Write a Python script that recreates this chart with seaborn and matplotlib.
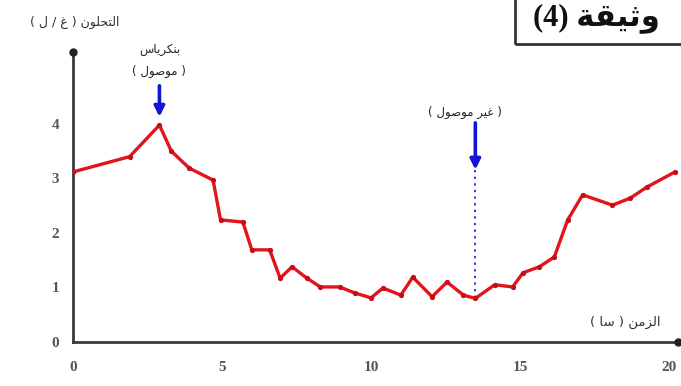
import matplotlib
matplotlib.use("Agg")
import matplotlib.pyplot as plt
from matplotlib.patches import Rectangle
import seaborn as sns
import pandas as pd

# Blood glucose over time (hours), pancreas graft connected then disconnected
time_h = [0, 1.9, 2.9, 3.3, 3.9, 4.7, 4.95, 5.7, 6.0, 6.6, 6.95, 7.35, 7.85,
          8.3, 8.95, 9.45, 10.0, 10.4, 11.0, 11.4, 12.05, 12.55, 13.1, 13.5,
          14.15, 14.75, 15.1, 15.65, 16.15, 16.6, 17.1, 18.1, 18.7, 19.25, 20.2]
glycemia = [3.12, 3.4, 3.98, 3.5, 3.19, 2.97, 2.24, 2.2, 1.69, 1.69, 1.17, 1.38,
            1.17, 1.01, 1.01, 0.9, 0.81, 0.99, 0.86, 1.19, 0.83, 1.1, 0.86, 0.8,
            1.05, 1.01, 1.27, 1.38, 1.56, 2.24, 2.7, 2.51, 2.64, 2.84, 3.12]
x_ticks = [0, 5, 10, 15, 20]
y_ticks = [0, 1, 2, 3, 4]

connect_t = 2.9
disconnect_t = 13.5
disconnect_v = 0.8

title_text = "وثيقة (4)"
y_label = "التحلون ( غ / ل )"
x_label = "الزمن ( سا )"
pancreas_label = "بنكرياس"
connected_label = "( موصول )"
disconnected_label = "( غير موصول )"

# --- minimal Arabic shaping: contextual presentation forms + visual order ---
FORMS = {  # iso, fin, ini, med
    "ا": ("\ufe8d", "\ufe8e", "\ufe8d", "\ufe8e"),
    "ب": ("\ufe8f", "\ufe90", "\ufe91", "\ufe92"),
    "ة": ("\ufe93", "\ufe94", "\ufe93", "\ufe94"),
    "ت": ("\ufe95", "\ufe96", "\ufe97", "\ufe98"),
    "ث": ("\ufe99", "\ufe9a", "\ufe9b", "\ufe9c"),
    "ح": ("\ufea1", "\ufea2", "\ufea3", "\ufea4"),
    "ر": ("\ufead", "\ufeae", "\ufead", "\ufeae"),
    "ز": ("\ufeaf", "\ufeb0", "\ufeaf", "\ufeb0"),
    "س": ("\ufeb1", "\ufeb2", "\ufeb3", "\ufeb4"),
    "ص": ("\ufeb9", "\ufeba", "\ufebb", "\ufebc"),
    "غ": ("\ufecd", "\ufece", "\ufecf", "\ufed0"),
    "ق": ("\ufed5", "\ufed6", "\ufed7", "\ufed8"),
    "ك": ("\ufed9", "\ufeda", "\ufedb", "\ufedc"),
    "ل": ("\ufedd", "\ufede", "\ufedf", "\ufee0"),
    "م": ("\ufee1", "\ufee2", "\ufee3", "\ufee4"),
    "ن": ("\ufee5", "\ufee6", "\ufee7", "\ufee8"),
    "و": ("\ufeed", "\ufeee", "\ufeed", "\ufeee"),
    "ي": ("\ufef1", "\ufef2", "\ufef3", "\ufef4"),
}
RIGHT_ONLY = set("اةرزو")
MIRROR = {"(": ")", ")": "("}


def rtl(text):
    shaped = []
    for i, c in enumerate(text):
        if c not in FORMS:
            shaped.append(c)
            continue
        prev = text[i - 1] if i > 0 else ""
        nxt = text[i + 1] if i + 1 < len(text) else ""
        join_prev = prev in FORMS and prev not in RIGHT_ONLY
        join_next = c not in RIGHT_ONLY and nxt in FORMS
        iso, fin, ini, med = FORMS[c]
        if join_prev and join_next:
            shaped.append(med)
        elif join_prev:
            shaped.append(fin)
        elif join_next:
            shaped.append(ini)
        else:
            shaped.append(iso)
    return "".join(MIRROR.get(ch, ch) for ch in reversed(shaped))


sns.set_style("white")
plt.rcParams["font.family"] = ["DejaVu Sans"]

fig = plt.figure(figsize=(6.81, 3.86), dpi=100)
ax = fig.add_axes([73 / 681, 44 / 386, 605 / 681, 290 / 386])

df = pd.DataFrame({"t": time_h, "g": glycemia})
sns.lineplot(data=df, x="t", y="g", ax=ax, color="#e3141c", linewidth=2.4,
             marker="o", markersize=3.8, markerfacecolor="#c30f18",
             markeredgewidth=0, zorder=3)

ax.set_xlim(0, 20.3)
ax.set_ylim(0, 5.32)
ax.set_xticks(x_ticks)
ax.set_yticks(y_ticks)
ax.set_xlabel("")
ax.set_ylabel("")

for side in ("top", "right"):
    ax.spines[side].set_visible(False)
for side in ("left", "bottom"):
    ax.spines[side].set_color("#3a3a3a")
    ax.spines[side].set_linewidth(2.0)

ax.tick_params(axis="both", direction="out", length=5, width=1.6,
               color="#3a3a3a", labelcolor="#555555")
ax.tick_params(axis="x", pad=9)
ax.tick_params(axis="y", pad=5)
for lab in ax.get_xticklabels() + ax.get_yticklabels():
    lab.set_fontfamily("Liberation Serif")
    lab.set_fontsize(11)
    lab.set_fontweight("bold")

# axis end markers
ax.plot([0], [5.32], marker="o", color="#222222", markersize=5, clip_on=False, zorder=5)
ax.plot([20.3], [0], marker="o", color="#222222", markersize=5, clip_on=False, zorder=5)

blue = "#1414d8"
label_kw = dict(ha="center", va="center", fontsize=8.5, color="#222222")
# pancreas connected
ax.annotate("", xy=(connect_t, 4.13), xytext=(connect_t, 4.7),
            arrowprops=dict(arrowstyle="-|>", color=blue, lw=2.6,
                            mutation_scale=15, shrinkA=0, shrinkB=0),
            annotation_clip=False)
ax.text(connect_t, 5.36, rtl(pancreas_label), clip_on=False, **label_kw)
ax.text(connect_t, 4.96, rtl(connected_label), clip_on=False, **label_kw)

# pancreas disconnected
ax.annotate("", xy=(disconnect_t, 3.16), xytext=(disconnect_t, 4.02),
            arrowprops=dict(arrowstyle="-|>", color=blue, lw=2.6,
                            mutation_scale=15, shrinkA=0, shrinkB=0))
ax.plot([disconnect_t, disconnect_t], [3.16, disconnect_v], color="#3a3ae0",
        lw=1.4, linestyle=(0, (1.2, 2.2)), zorder=2)
ax.text(13.15, 4.22, rtl(disconnected_label), **label_kw)

# axis titles
fig.text(75 / 681, 1 - 22 / 386, rtl(y_label), ha="center", va="center",
         fontsize=9, color="#333333")
fig.text(590 / 681, 1 - 322 / 386, rtl(x_label), ha="left", va="center",
         fontsize=9.5, color="#333333")

# document title box
fig.patches.append(Rectangle((515 / 681, 1 - 44 / 386), 0.4, 0.2,
                             transform=fig.transFigure, fill=False,
                             edgecolor="#333333", linewidth=2.0))
fig.text(533 / 681, 1 - 18 / 386, rtl(title_text), ha="left", va="center",
         fontsize=22, fontweight="bold", color="#111111",
         family=["Liberation Serif", "DejaVu Sans"])

fig.savefig("out.png", dpi=100)
